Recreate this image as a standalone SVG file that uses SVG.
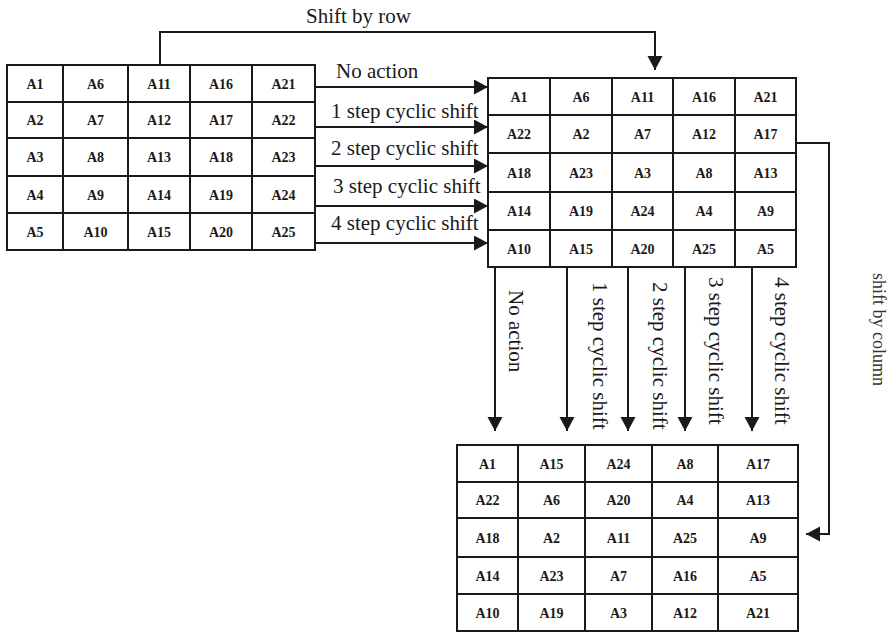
<svg xmlns="http://www.w3.org/2000/svg" width="890" height="633" viewBox="0 0 890 633">
<defs>
<style>
.grid{fill:#fff;stroke:#1a1a1a;stroke-width:2}
.gl{fill:none;stroke:#1a1a1a;stroke-width:2}
.c{font-family:"Liberation Serif","Times New Roman",serif;font-weight:bold;font-size:14px;fill:#1a1a1a;text-anchor:middle}
.lbl{font-family:"Liberation Serif","Times New Roman",serif;font-size:21px;fill:#1a1a1a}
.con{fill:none;stroke:#1a1a1a;stroke-width:2}
</style>
<marker id="ah" markerUnits="userSpaceOnUse" markerWidth="16" markerHeight="16" refX="14" refY="7.5" orient="auto" viewBox="0 0 16 16">
<path d="M0,0 L14,7.5 L0,15 z" fill="#1a1a1a"/>
</marker>
</defs>
<rect width="890" height="633" fill="#fff"/>

<g id="matrix-original">
<rect class="grid" x="7" y="65" width="308" height="185"/>
<path class="gl" d="M63,65V250M128,65V250M190,65V250M252,65V250M7,102H315M7,138H315M7,176H315M7,213H315"/>
<text class="c" x="35" y="88.5">A1</text><text class="c" x="95.5" y="88.5">A6</text><text class="c" x="159" y="88.5">A11</text><text class="c" x="221" y="88.5">A16</text><text class="c" x="283.5" y="88.5">A21</text>
<text class="c" x="35" y="125">A2</text><text class="c" x="95.5" y="125">A7</text><text class="c" x="159" y="125">A12</text><text class="c" x="221" y="125">A17</text><text class="c" x="283.5" y="125">A22</text>
<text class="c" x="35" y="162">A3</text><text class="c" x="95.5" y="162">A8</text><text class="c" x="159" y="162">A13</text><text class="c" x="221" y="162">A18</text><text class="c" x="283.5" y="162">A23</text>
<text class="c" x="35" y="199.5">A4</text><text class="c" x="95.5" y="199.5">A9</text><text class="c" x="159" y="199.5">A14</text><text class="c" x="221" y="199.5">A19</text><text class="c" x="283.5" y="199.5">A24</text>
<text class="c" x="35" y="236.5">A5</text><text class="c" x="95.5" y="236.5">A10</text><text class="c" x="159" y="236.5">A15</text><text class="c" x="221" y="236.5">A20</text><text class="c" x="283.5" y="236.5">A25</text>
</g>

<g id="matrix-row-shifted">
<rect class="grid" x="488" y="78" width="308" height="189"/>
<path class="gl" d="M550,78V267M612,78V267M673,78V267M735,78V267M488,115H796M488,153H796M488,192H796M488,230H796"/>
<text class="c" x="519" y="101.5">A1</text><text class="c" x="581" y="101.5">A6</text><text class="c" x="642.5" y="101.5">A11</text><text class="c" x="704" y="101.5">A16</text><text class="c" x="765.5" y="101.5">A21</text>
<text class="c" x="519" y="139">A22</text><text class="c" x="581" y="139">A2</text><text class="c" x="642.5" y="139">A7</text><text class="c" x="704" y="139">A12</text><text class="c" x="765.5" y="139">A17</text>
<text class="c" x="519" y="177.5">A18</text><text class="c" x="581" y="177.5">A23</text><text class="c" x="642.5" y="177.5">A3</text><text class="c" x="704" y="177.5">A8</text><text class="c" x="765.5" y="177.5">A13</text>
<text class="c" x="519" y="216">A14</text><text class="c" x="581" y="216">A19</text><text class="c" x="642.5" y="216">A24</text><text class="c" x="704" y="216">A4</text><text class="c" x="765.5" y="216">A9</text>
<text class="c" x="519" y="253.5">A10</text><text class="c" x="581" y="253.5">A15</text><text class="c" x="642.5" y="253.5">A20</text><text class="c" x="704" y="253.5">A25</text><text class="c" x="765.5" y="253.5">A5</text>
</g>

<g id="matrix-column-shifted">
<rect class="grid" x="457" y="445" width="341" height="186"/>
<path class="gl" d="M518,445V631M585,445V631M652,445V631M718,445V631M457,482H798M457,518H798M457,557H798M457,594H798"/>
<text class="c" x="487.5" y="468.5">A1</text><text class="c" x="551.5" y="468.5">A15</text><text class="c" x="618.5" y="468.5">A24</text><text class="c" x="685" y="468.5">A8</text><text class="c" x="758" y="468.5">A17</text>
<text class="c" x="487.5" y="505">A22</text><text class="c" x="551.5" y="505">A6</text><text class="c" x="618.5" y="505">A20</text><text class="c" x="685" y="505">A4</text><text class="c" x="758" y="505">A13</text>
<text class="c" x="487.5" y="542.5">A18</text><text class="c" x="551.5" y="542.5">A2</text><text class="c" x="618.5" y="542.5">A11</text><text class="c" x="685" y="542.5">A25</text><text class="c" x="758" y="542.5">A9</text>
<text class="c" x="487.5" y="580.5">A14</text><text class="c" x="551.5" y="580.5">A23</text><text class="c" x="618.5" y="580.5">A7</text><text class="c" x="685" y="580.5">A16</text><text class="c" x="758" y="580.5">A5</text>
<text class="c" x="487.5" y="617.5">A10</text><text class="c" x="551.5" y="617.5">A19</text><text class="c" x="618.5" y="617.5">A3</text><text class="c" x="685" y="617.5">A12</text><text class="c" x="758" y="617.5">A21</text>
</g>

<g id="connectors">
<path class="con" d="M160,65V32H655V70" marker-end="url(#ah)"/>
<path class="con" d="M315,87H488" marker-end="url(#ah)"/>
<path class="con" d="M315,127H488" marker-end="url(#ah)"/>
<path class="con" d="M315,166H488" marker-end="url(#ah)"/>
<path class="con" d="M315,206H488" marker-end="url(#ah)"/>
<path class="con" d="M315,243H488" marker-end="url(#ah)"/>
<path class="con" d="M495,267V431" marker-end="url(#ah)"/>
<path class="con" d="M567,267V431" marker-end="url(#ah)"/>
<path class="con" d="M628,267V431" marker-end="url(#ah)"/>
<path class="con" d="M685,267V431" marker-end="url(#ah)"/>
<path class="con" d="M752,267V431" marker-end="url(#ah)"/>
<path class="con" d="M797,143H829V534H806" marker-end="url(#ah)"/>
</g>

<g id="labels">
<text class="lbl" x="306" y="23">Shift by row</text>
<text class="lbl" x="336" y="78">No action</text>
<text class="lbl" x="331" y="118">1 step cyclic shift</text>
<text class="lbl" x="331" y="155">2 step cyclic shift</text>
<text class="lbl" x="333" y="193">3 step cyclic shift</text>
<text class="lbl" x="331" y="230">4 step cyclic shift</text>
<text class="lbl" transform="translate(509,290) rotate(90)">No action</text>
<text class="lbl" transform="translate(593,282) rotate(90)">1 step cyclic shift</text>
<text class="lbl" transform="translate(653,282) rotate(90)">2 step cyclic shift</text>
<text class="lbl" transform="translate(709,277) rotate(90)">3 step cyclic shift</text>
<text class="lbl" transform="translate(775,277) rotate(90)">4 step cyclic shift</text>
<text class="lbl" style="font-size:18px;fill:#333" transform="translate(873,273) rotate(90)">shift by column</text>
</g>
</svg>
